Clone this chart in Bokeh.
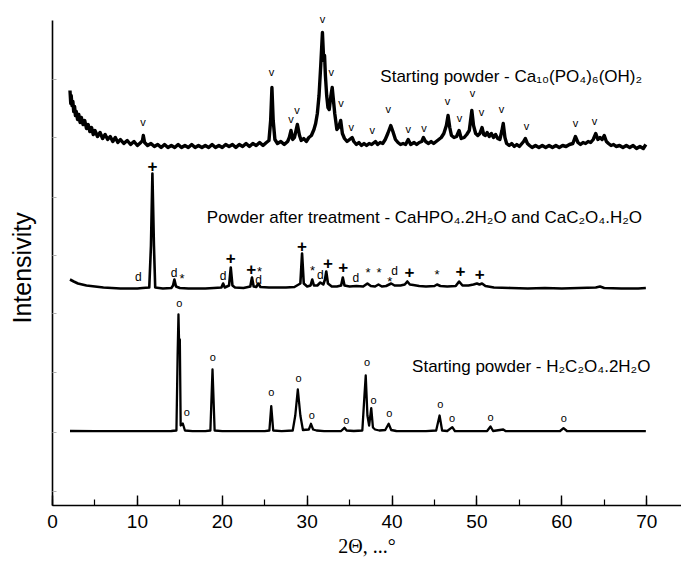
from bokeh.plotting import figure
from bokeh.models import SingleIntervalTicker, FixedTicker, Label, ColumnDataSource, Title
from bokeh.core.properties import value
from bokeh.embed import file_html
from bokeh.resources import INLINE

# ---------------- data (2-theta in degrees, intensity in arbitrary offset units) ----------------
# Starting powder - hydroxyapatite (top trace) as (2theta, intensity)
ha_points = [
    (2.06, 415), (2.15, 402), (2.2, 410), (2.3, 400), (2.4, 404), (2.5, 394), (2.6, 399), (2.7, 390),
    (2.8, 394), (2.95, 386), (3.1, 391), (3.25, 383), (3.4, 388), (3.6, 381), (3.8, 385), (4.0, 377),
    (4.2, 381), (4.4, 374), (4.6, 378), (4.8, 371), (5.0, 375), (5.3, 369), (5.6, 373), (5.9, 367),
    (6.2, 371), (6.5, 366), (6.8, 369), (7.1, 364), (7.4, 368), (7.7, 363), (8.0, 366), (8.4, 362),
    (8.8, 365), (9.2, 361), (9.6, 364), (10.0, 360), (10.4, 363), (10.6, 365), (10.7, 370), (10.85, 363),
    (11.2, 360), (11.6, 362), (12.0, 359), (12.4, 361), (12.8, 358), (13.2, 361), (13.6, 358), (14.0, 360),
    (14.4, 358), (14.8, 361), (15.2, 358), (15.6, 360), (16.0, 358), (16.4, 361), (16.8, 358), (17.2, 360),
    (17.6, 358), (18.0, 360), (18.4, 358), (18.8, 361), (19.2, 358), (19.6, 360), (20.0, 358), (20.4, 361),
    (20.8, 359), (21.2, 361), (21.6, 358), (22.0, 361), (22.4, 359), (22.8, 362), (23.2, 359), (23.6, 362),
    (24.0, 360), (24.4, 363), (24.8, 360), (25.2, 363), (25.5, 365), (25.7, 385), (25.85, 418), (26.0, 385),
    (26.2, 366), (26.5, 362), (26.9, 364), (27.3, 361), (27.7, 364), (27.9, 368), (28.1, 375), (28.3, 366),
    (28.5, 368), (28.85, 381), (29.1, 370), (29.3, 365), (29.6, 367), (29.9, 364), (30.2, 368), (30.5, 370),
    (30.8, 376), (31.0, 382), (31.2, 392), (31.4, 410), (31.6, 440), (31.8, 473), (31.95, 445), (32.05, 450),
    (32.15, 430), (32.3, 410), (32.45, 398), (32.6, 396), (32.8, 410), (32.95, 418), (33.1, 405), (33.25, 392),
    (33.5, 376), (33.7, 378), (33.95, 385), (34.15, 372), (34.4, 367), (34.7, 364), (35.0, 366), (35.3, 368),
    (35.5, 364), (35.8, 361), (36.1, 363), (36.4, 360), (36.7, 362), (37.0, 360), (37.3, 362), (37.6, 361),
    (38.05, 364), (38.3, 361), (38.6, 363), (38.9, 362), (39.2, 366), (39.5, 372), (39.85, 380), (40.1, 374),
    (40.4, 366), (40.7, 363), (41.0, 361), (41.3, 362), (41.6, 361), (41.9, 366), (42.2, 361), (42.6, 363),
    (42.9, 361), (43.2, 363), (43.5, 364), (43.7, 368), (43.95, 364), (44.3, 362), (44.6, 364), (44.9, 362),
    (45.2, 364), (45.5, 366), (45.8, 368), (46.1, 372), (46.4, 380), (46.6, 390), (46.8, 378), (47.0, 370),
    (47.3, 368), (47.6, 369), (47.9, 375), (48.15, 367), (48.5, 368), (48.8, 371), (49.1, 375), (49.4, 395),
    (49.6, 380), (49.85, 372), (50.1, 370), (50.35, 372), (50.6, 378), (50.8, 371), (51.0, 370), (51.2, 373),
    (51.45, 369), (51.7, 372), (51.95, 368), (52.2, 371), (52.45, 367), (52.7, 366), (52.95, 375), (53.1, 382),
    (53.3, 368), (53.5, 362), (53.8, 360), (54.1, 362), (54.4, 359), (54.7, 361), (55.0, 359), (55.3, 362),
    (55.5, 364), (55.7, 367), (55.95, 362), (56.2, 360), (56.5, 358), (56.9, 360), (57.3, 358), (57.7, 360),
    (58.1, 358), (58.5, 360), (58.9, 358), (59.3, 360), (59.7, 358), (60.1, 360), (60.5, 359), (60.9, 361),
    (61.3, 362), (61.6, 369), (61.9, 363), (62.2, 361), (62.5, 363), (62.8, 362), (63.1, 364), (63.4, 363),
    (63.7, 366), (64.0, 372), (64.25, 366), (64.5, 368), (64.75, 366), (65.0, 370), (65.25, 364), (65.5, 362),
    (65.8, 360), (66.1, 361), (66.4, 359), (66.8, 360), (67.2, 358), (67.6, 360), (68.0, 358), (68.4, 360),
    (68.8, 357), (69.2, 359), (69.6, 357), (69.9, 361),
]

# Powder after treatment (middle trace)
tr_x = [2.06, 2.5, 3.0, 4.0, 5.0, 6.0, 7.0, 8.0, 9.0, 10.0, 10.6, 11.4, 11.6, 11.77, 11.95, 12.1, 13.0,
        14.0, 14.2, 14.36, 14.55, 15.0, 16.0, 17.0, 18.0, 19.0, 19.9, 20.1, 20.3, 20.8, 21.0, 21.2, 21.5,
        22.5, 23.3, 23.5, 23.7, 24.0, 24.25, 24.5, 25.5, 26.5, 27.5, 28.5, 29.2, 29.4, 29.6, 30.0, 30.4,
        30.6, 30.8, 31.2, 31.55, 31.9, 32.1, 32.25, 32.45, 32.9, 33.5, 34.0, 34.2, 34.4, 35.0, 35.8, 36.6,
        37.1, 37.5, 38.0, 38.4, 38.8, 39.3, 39.9, 40.3, 41.0, 41.5, 41.8, 42.1, 42.5, 43.2, 44.0, 45.0,
        45.3, 45.7, 46.5, 47.5, 47.9, 48.3, 49.0, 49.6, 50.0, 50.3, 50.6, 51.0, 52.0, 54.0, 56.0, 58.0,
        60.0, 62.0, 64.0, 64.5, 65.0, 67.0, 69.0, 69.9]
tr_y = [226, 224, 222, 220, 219, 218, 217.5, 217, 217, 217, 217.5, 218, 260, 332, 260, 218, 217,
        217.5, 220, 226, 219, 217.5, 217, 217, 217, 217.5, 218, 222, 218, 220, 238, 220, 218,
        217.5, 219, 228, 219, 218.5, 222, 218.5, 218, 218, 218, 218.5, 222, 252, 222, 219, 220,
        226, 220, 220, 223, 221, 226, 234, 222, 219, 219, 220, 228, 220, 219, 219.5, 219,
        222, 219.5, 219, 221, 219, 219.5, 222, 220, 220, 221, 224, 221, 220.5, 219.5, 219, 219.5,
        221, 219.5, 219, 219.5, 224, 220, 220, 221, 222, 221, 222, 219.5, 218, 217.5, 217, 217.5,
        217, 217.5, 218, 219, 217.5, 217, 217, 217.5]

# Starting powder - oxalic acid dihydrate (bottom trace)
ox_x = [2.06, 5.0, 10.0, 14.0, 14.6, 14.74, 14.84, 14.92, 15.0, 15.1, 15.35, 15.6, 16.5, 18.0, 18.6,
        18.85, 19.1, 20.0, 25.0, 25.55, 25.77, 26.0, 27.0, 28.3, 28.6, 28.9, 29.2, 29.5, 30.2, 30.45,
        30.7, 31.1, 32.0, 34.0, 34.4, 34.65, 35.5, 36.5, 36.75, 36.9, 37.1, 37.3, 37.55, 37.75, 38.0,
        38.5, 39.2, 39.6, 39.9, 40.5, 42.0, 44.0, 45.2, 45.6, 45.9, 46.5, 47.1, 47.4, 49.0, 51.2, 51.6,
        51.9, 53.1, 53.4, 56.0, 59.8, 60.2, 60.6, 63.0, 66.0, 69.9]
ox_y = [74.5, 74.3, 74.3, 74.5, 75, 150, 191, 160, 166, 80, 82, 75, 74.3, 74.3, 75,
        136, 75, 74.3, 74.3, 75, 99.3, 75, 74.3, 75, 90, 116, 90, 75.5, 76, 81.7,
        76, 75, 74.3, 74.5, 77.7, 75, 74.5, 75, 110, 130, 90, 80, 97.3, 78, 76,
        75, 75.5, 81.7, 75.5, 74.5, 74.3, 74.3, 75, 90, 75, 74.5, 78.3, 74.5, 74.3, 74.5, 79,
        74.5, 76, 74.3, 74.3, 74.5, 77.3, 74.5, 74.3, 74.3, 74.3]

# Peak markers
ha_mark_x = [10.67, 25.8, 28.1, 28.8, 31.8, 32.85, 33.99, 35.2, 37.68, 39.56, 41.9, 43.77, 46.52, 47.94,
             49.47, 50.53, 52.9, 55.84, 61.6, 63.86]
ha_mark_y = [385, 435, 388, 397, 488, 435, 404, 380, 377, 398, 378, 379, 406, 389, 414, 395, 398, 381, 384, 386]

tr_plus_x = [11.77, 21.0, 23.4, 29.39, 32.45, 34.26, 42.04, 48.05, 50.33]
tr_plus_y = [341, 249, 238, 261, 244, 239.5, 234.3, 235.7, 232.3]
tr_d_x = [10.12, 14.33, 20.1, 24.27, 31.55, 35.73, 40.3]
tr_d_y = [229, 232.3, 230, 226, 231, 228, 235]
tr_star_x = [15.27, 24.4, 30.64, 37.18, 38.48, 39.72, 45.3]
tr_star_y = [231, 238, 239, 237, 237, 227.7, 235]

ox_mark_x = [14.95, 15.83, 18.89, 25.77, 28.99, 30.56, 34.6, 37.05, 37.83, 39.68, 45.7, 47.07, 51.6, 60.24]
ox_mark_y = [204, 94.3, 149.3, 115, 129, 91.7, 87, 144.3, 106.7, 93.3, 102.3, 88.3, 90, 89]

captions = ["Starting powder - Ca₁₀(PO₄)₆(OH)₂",
            "Powder after treatment - CaHPO₄.2H₂O and CaC₂O₄.H₂O",
            "Starting powder - H₂C₂O₄.2H₂O"]
caption_x = [38.62, 18.18, 42.36]
caption_y = [429.5, 288.5, 139.5]

x_title = "2Θ, ...°"
y_title = "Intensivity"

ha_x = [pt[0] for pt in ha_points]
ha_y = [pt[1] for pt in ha_points]

SANS = "Liberation Sans"

p = figure(width=681, height=563, x_range=(0, 74.1), y_range=(0, 505),
           output_backend="svg", toolbar_location=None,
           min_border_left=52, min_border_right=0, min_border_top=0, min_border_bottom=58)
p.outline_line_color = None
p.xgrid.grid_line_color = None
p.ygrid.grid_line_color = None
p.background_fill_color = "white"
p.border_fill_color = "white"

# traces
p.line(ha_x, ha_y, line_color="black", line_width=3.4, line_join="round")
p.line(tr_x, tr_y, line_color="black", line_width=2.6, line_join="round")
p.line(ox_x, ox_y, line_color="black", line_width=2.3, line_join="round")

def marks(xs, ys, sym, size, y_off=0, bold=False):
    src = ColumnDataSource(dict(x=xs, y=ys, t=[sym] * len(xs)))
    p.text(x="x", y="y", text="t", source=src, text_font=value(SANS), text_font_size=size,
           text_align="center", text_baseline="middle", y_offset=y_off,
           text_font_style="bold" if bold else "normal", text_color="black")

marks(ha_mark_x, ha_mark_y, "v", "11px", 1)
marks(tr_plus_x, tr_plus_y, "+", "17px", 1, bold=True)
marks(tr_d_x, tr_d_y, "d", "12px", 0)
marks(tr_star_x, tr_star_y, "*", "13px", 4)
marks(ox_mark_x, ox_mark_y, "o", "11px", 1)

# sample captions
for x, y, txt in zip(caption_x, caption_y, captions):
    p.add_layout(Label(x=x, y=y, text=txt, text_font=SANS, text_font_size="17px",
                       text_baseline="alphabetic", text_align="left", text_color="black"))

# axis titles as side titles (the y title sits a little below the frame centre, as in the reference)
p.add_layout(Title(text=y_title, align="left", offset=182, standoff=10, text_font=SANS,
                   text_font_size="25px", text_font_style="normal", text_color="black"), "left")
p.add_layout(Title(text=x_title, align="center", offset=0, standoff=5, text_font="Liberation Serif",
                   text_font_size="20px", text_font_style="normal", text_color="black"), "below")

# x axis
xa = p.xaxis[0]
xa.ticker = SingleIntervalTicker(interval=10, num_minor_ticks=2)
xa.axis_line_width = 1.6
xa.axis_line_color = "black"
xa.major_tick_in = 10
xa.major_tick_out = 0
xa.minor_tick_in = 6
xa.minor_tick_out = 0
xa.major_tick_line_width = 1.4
xa.minor_tick_line_width = 1.2
xa.major_tick_line_color = "black"
xa.minor_tick_line_color = "black"
xa.major_label_text_font = SANS
xa.major_label_text_font_size = "19px"
xa.major_label_text_color = "black"
xa.major_label_standoff = 9

# y axis: faint inner ticks drawn as minor ticks; the (invisible) major tick reserves room on the left
ya = p.yaxis[0]
y_ticks = [14, 73, 133, 192, 250, 308, 368, 426]
ya.ticker = FixedTicker(ticks=[250], minor_ticks=y_ticks)
ya.bounds = (0, 485)
ya.axis_line_width = 1.6
ya.axis_line_color = "black"
ya.major_tick_in = 0
ya.major_tick_out = 12
ya.major_tick_line_color = None
ya.minor_tick_in = 4
ya.minor_tick_out = 0
ya.minor_tick_line_color = "#b0b0b0"
ya.major_label_overrides = {250: ""}
ya.major_label_standoff = 0

open("out.html", "w").write(file_html(p, INLINE))
